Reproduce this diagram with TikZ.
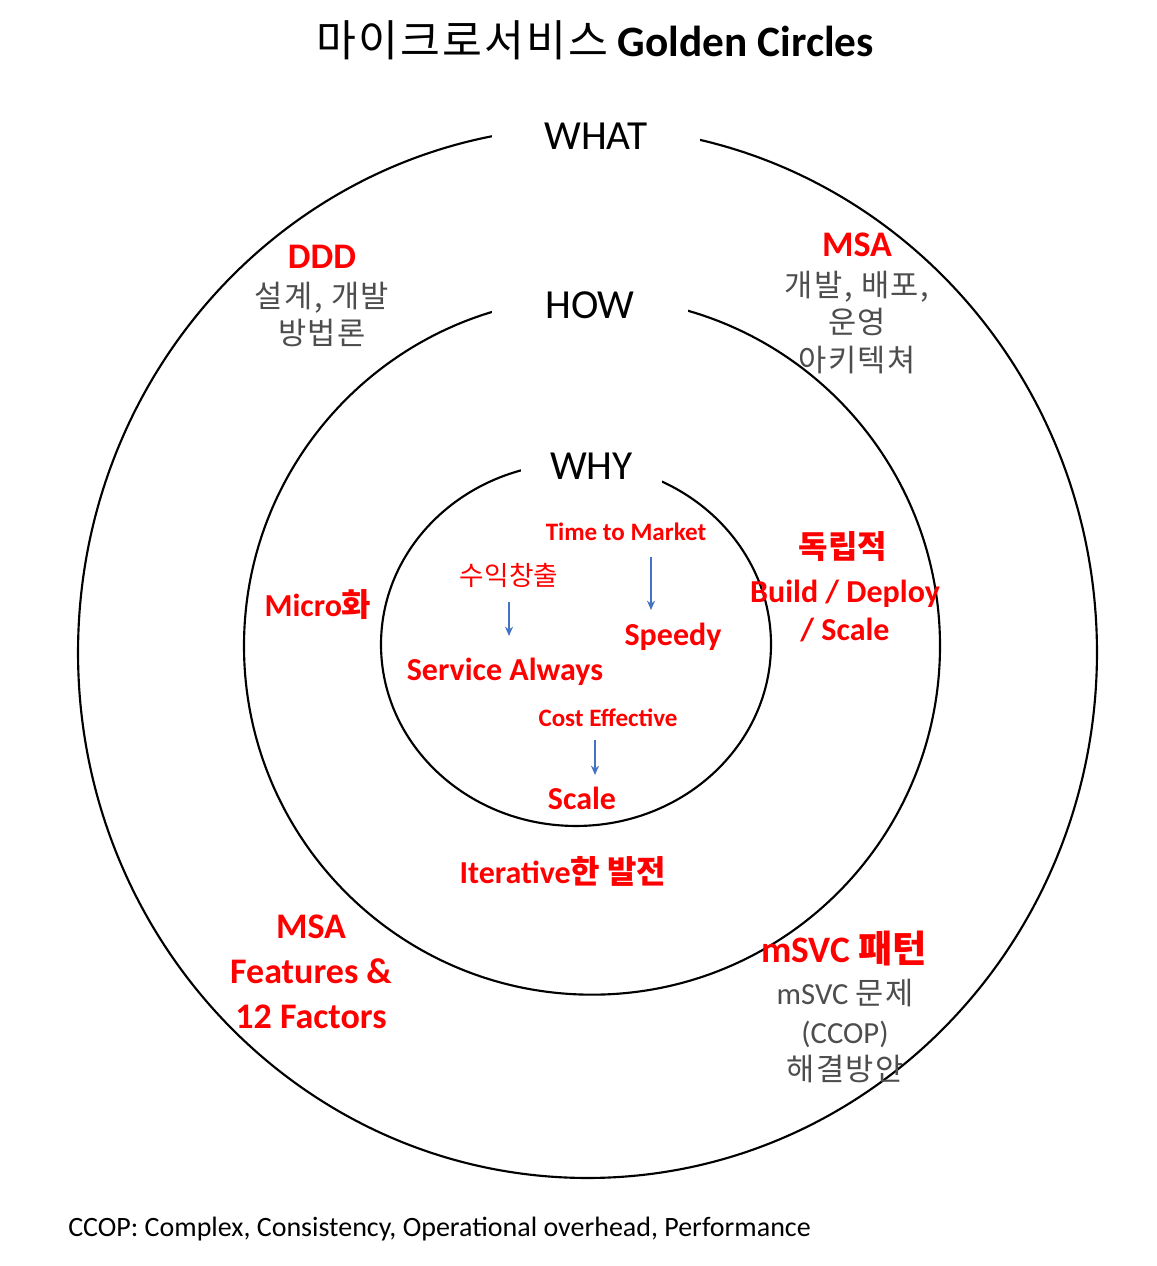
\documentclass[tikz,border=0pt]{standalone}
\usepackage{fontspec}
\setmainfont{Carlito}
\newfontfamily\kr{Noto Sans CJK KR}
\newfontfamily\krs{Noto Sans CJK KR}[LetterSpace=5]
\usetikzlibrary{arrows.meta}
\definecolor{lblred}{HTML}{FF0000}
\definecolor{txtgray}{HTML}{4D4D4D}
\definecolor{arrblue}{HTML}{4472C4}
\begin{document}
\begin{tikzpicture}[x=0.75pt,y=-0.75pt,
  ring/.style={draw=black, line width=1.6pt},
  gaplabel/.style={fill=white, inner sep=0pt, text=black,
    font=\fontsize{31pt}{36pt}\selectfont, text height=20pt, text depth=0pt},
  lab/.style={anchor=base, inner sep=0pt},
  bigred/.style={lab, text=lblred, font=\bfseries\fontsize{27pt}{32pt}\selectfont},
  midred/.style={lab, text=lblred, font=\bfseries\fontsize{24pt}{28pt}\selectfont},
  smallred/.style={lab, text=lblred, font=\bfseries\fontsize{18.8pt}{22pt}\selectfont},
  graytxt/.style={lab, text=txtgray, font=\fontsize{23pt}{27pt}\selectfont},
  bluearrow/.style={draw=arrblue, line width=1.1pt, -{Stealth[length=7pt,width=6pt]}}
]
\useasboundingbox (0,0) rectangle (1156,1266);

% title
\node[lab, font=\fontsize{32.5pt}{38pt}\selectfont] (title) at (595,57)
  {{\krs 마이크로서비스} {\bfseries Golden Circles}};

% rings
\draw[ring] (587.5,652.5) ellipse [x radius=382.1pt, y radius=394.1pt];
\draw[ring] (592,646) ellipse [x radius=261pt, y radius=261.5pt];
\draw[ring] (576,644.5) ellipse [x radius=146.25pt, y radius=136.1pt];

% ring labels (gaps)
\node[gaplabel, minimum width=156pt, minimum height=30pt] (what) at (596,136.5) {WHAT};
\node[gaplabel, minimum width=147pt, minimum height=30pt] (how) at (590,305) {HOW};
\node[gaplabel, minimum width=105.75pt, minimum height=33pt] (why) at (591.5,466) {WHY};

% WHAT ring, top left
\node[bigred] (ddd) at (322,268.5) {DDD};
\node[graytxt] (ddd2) at (322,307) {\krs 설계, 개발};
\node[graytxt] (ddd3) at (322,344) {\krs 방법론};

% WHAT ring, top right
\node[bigred] (msa) at (857,256.5) {MSA};
\node[graytxt] (msa2) at (857,296) {\krs 개발, 배포,};
\node[graytxt] (msa3) at (857,333) {\krs 운영};
\node[graytxt] (msa4) at (857,371) {\krs 아키텍쳐};

% WHAT ring, bottom left
\node[bigred] (feat1) at (311,938.5) {MSA};
\node[bigred] (feat2) at (311,983.5) {Features \&};
\node[bigred] (feat3) at (311,1028.5) {12 Factors};

% WHAT ring, bottom right
\node[lab, text=lblred, font=\bfseries\fontsize{28pt}{32pt}\selectfont] (pat1) at (844,962) {mSVC {\kr 패턴}};
\node[graytxt] (pat2) at (845,1004) {mSVC {\krs 문제}};
\node[graytxt] (pat3) at (845,1043) {(CCOP)};
\node[graytxt] (pat4) at (845,1080) {\krs 해결방안};

% HOW ring
\node[midred] (micro) at (318,616) {Micro{\kr 화}};
\node[midred] (ind1) at (843,558) {\kr 독립적};
\node[midred] (ind2) at (845,602) {Build / Deploy};
\node[midred] (ind3) at (845,640) {/ Scale};
\node[midred] (iter) at (563,883) {Iterative{\kr 한 발전}};

% WHY ring
\node[smallred] (ttm) at (626,540) {Time to Market};
\node[lab, text=lblred, font=\fontsize{20pt}{24pt}\selectfont] (suik) at (509,585) {\kr 수익창출};
\node[midred] (speedy) at (673,645) {Speedy};
\node[midred] (svc) at (505,680) {Service Always};
\node[smallred] (cost) at (608,726) {Cost Effective};
\node[midred] (scale) at (582,809) {Scale};

\coordinate (a1s) at (651,557);
\coordinate (a1e) at (651,610);
\coordinate (a2s) at (509,602);
\coordinate (a2e) at (509,636);
\coordinate (a3s) at (595,740);
\coordinate (a3e) at (595,775);
\draw[bluearrow] (a1s) -- (a1e);
\draw[bluearrow] (a2s) -- (a2e);
\draw[bluearrow] (a3s) -- (a3e);

% footer
\node[anchor=base west, inner sep=0pt, text=black, font=\fontsize{21pt}{25pt}\selectfont] (foot) at (68,1236)
  {CCOP: Complex, Consistency, Operational overhead, Performance};
\end{tikzpicture}
\end{document}
